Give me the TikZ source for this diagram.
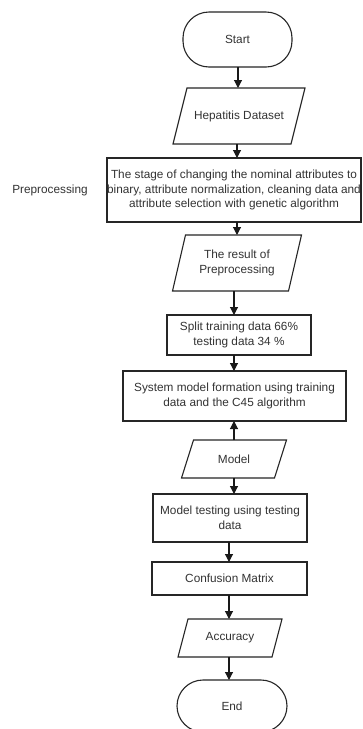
\documentclass[tikz,border=0pt]{standalone}
\usepackage{fontspec}
\setmainfont{Liberation Sans}
\usetikzlibrary{arrows.meta}
\newcommand\iopath[2]{\draw[shapeline] ([xshift=#2pt]#1.north west) -- ([xshift=#2pt]#1.north east) -- ([xshift=-#2pt]#1.south east) -- ([xshift=-#2pt]#1.south west) -- cycle;}
\begin{document}
\begin{tikzpicture}[x=1pt,y=-1pt,
  every node/.style={font=\fontsize{11.8}{14.5}\selectfont, text=black!80, align=center, inner sep=0pt, outer sep=0pt},
  shapeline/.style={draw=black!85, line width=1.1pt},
  proc/.style={shapeline, minimum width=#1},
  term/.style={shapeline, minimum width=#1, rounded corners=26pt},
  io/.style={minimum width=#1},
  arr/.style={draw=black!90, line width=1.1pt, -{Triangle[length=8pt,width=8pt]}}
]
\useasboundingbox (0,0) rectangle (362,729);
\fill[white] (0,0) rectangle (362,729);

\coordinate (c1) at (238,0);
\coordinate (c2) at (237,0);
\coordinate (c3) at (234,0);
\coordinate (c4) at (229,0);

\node[term=109pt, minimum height=55pt] (start) at (237.5,39.5) {Start};
\node[io=118pt, minimum height=56pt] (hep) at (239,116) {Hepatitis Dataset};
\iopath{hep}{7}
\node[proc=254pt, minimum height=64pt] (pre) at (234,190) {The stage of changing the nominal attributes to\\binary, attribute normalization, cleaning data and\\attribute selection with genetic algorithm};
\node (lbl) at (50,190) {Preprocessing};
\node[io=116pt, minimum height=56pt] (res) at (237,263) {The result of\\Preprocessing};
\iopath{res}{6.5}
\node[proc=144pt, minimum height=40pt] (split) at (239,335) {Split training data 66\%\\testing data 34 \%};
\node[proc=223pt, minimum height=50pt] (sys) at (234.5,396) {System model formation using training\\data and the C45 algorithm};
\node[io=93pt, minimum height=38pt] (model) at (234,459) {Model};
\iopath{model}{6}
\node[proc=154pt, minimum height=48pt] (test) at (230,518) {Model testing using testing\\data};
\node[proc=155pt, minimum height=33pt] (conf) at (229.5,578.5) {Confusion Matrix};
\node[io=94pt, minimum height=38pt] (acc) at (230,638) {Accuracy};
\iopath{acc}{5}
\node[term=110pt, minimum height=52pt] (end) at (232,706) {End};

\draw[arr] (start.south -| c1) -- (hep.north -| c1);
\draw[arr] (hep.south -| c2) -- (pre.north -| c2);
\draw[arr] (pre.south -| c2) -- (res.north -| c2);
\draw[arr] (res.south -| c3) -- (split.north -| c3);
\draw[arr] (split.south -| c3) -- (sys.north -| c3);
\draw[arr] (model.north -| c3) -- (sys.south -| c3);
\draw[arr] (model.south -| c3) -- (test.north -| c3);
\draw[arr] (test.south -| c4) -- (conf.north -| c4);
\draw[arr] (conf.south -| c4) -- (acc.north -| c4);
\draw[arr] (acc.south -| c4) -- (end.north -| c4);
\end{tikzpicture}
\end{document}
